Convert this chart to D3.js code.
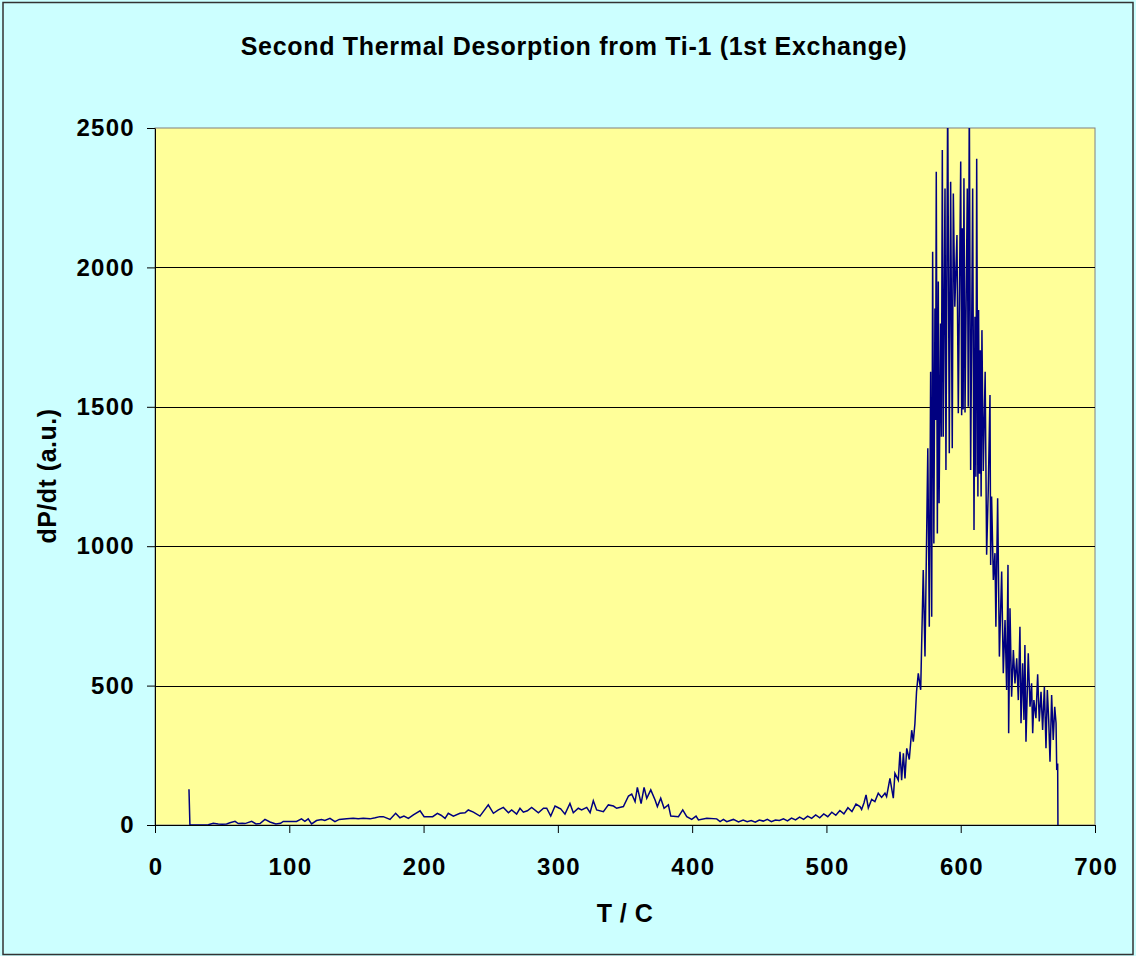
<!DOCTYPE html>
<html><head><meta charset="utf-8">
<script src="https://cdn.jsdelivr.net/npm/d3@7"></script>
<style>body{margin:0;background:#CCFFFF}</style>
</head><body><svg id="c" width="1136" height="956"></svg>
<script>
const chartTitle = "Second Thermal Desorption from Ti-1 (1st Exchange)";
const xTitle = "T / C";
const yTitle = "dP/dt (a.u.)";
const xTicks = [0, 100, 200, 300, 400, 500, 600, 700];
const yTicks = [0, 500, 1000, 1500, 2000, 2500];

// [T (C), dP/dt (a.u.)]
const lowRegion = [[25.3,128],[26,0],[28,-2],[30,0],[32,-3],[34,-1],[36,-3],[38,0],[39.7,1],[43.4,6],[47.1,4],[50,3],[53.3,4],[55.8,8],[59.6,13],[62,5],[65,6],[67,5],[72,13],[75.2,4],[78.2,5],[81.9,20],[85.6,11],[90,4],[93.5,6],[95.5,13],[100,13],[105.4,13],[109.1,22],[111.6,13],[114.1,22],[116.6,4],[120.3,16],[124,20],[126.5,16],[130.3,24],[134,12],[137.2,20],[142.7,22],[147.6,24],[151.4,22],[155.1,24],[160.1,22],[164,26],[167.5,30],[170,30],[175,20],[179.2,42],[182.4,26],[185.4,32],[188.7,24],[192.4,36],[197.4,51],[200.4,30],[206.8,30],[210.3,42]];
const midRegion = [[213,35],[216,24],[218.4,42],[222.2,32],[227.1,42],[230.9,44],[233.3,54],[237.1,46],[242,32],[248.2,72],[252,42],[255.7,54],[259.4,63],[263.2,44],[265.6,54],[269.3,39],[271.8,60],[274.3,46],[277.3,51],[280.5,63],[285.5,44],[289.3,60],[291.7,60],[294.7,32],[297.9,68],[301.1,60],[302.1,58],[305.3,39],[309,77],[311.5,44],[315.2,60],[317.7,54],[321.5,63],[324,44],[326.4,87],[328.9,54],[333.9,48],[337.6,72],[341.4,68],[343.8,60],[348.8,66],[352.6,104],[355,111],[357.5,84],[359.2,135],[362,77],[364.2,135],[366.2,96],[369.2,126],[372.4,90],[374.1,66],[376.6,96],[379.1,60],[382.3,72],[384.1,32],[389.8,30],[393,54],[396,30],[399.7,20],[402.9,32],[404.7,18],[410.9,24],[418.3,22],[420.8,12],[423.3,20],[425.8,12],[430.7,20],[434.5,11]];
const riseRegion = [[438,18],[441,12],[444,16],[447,10],[450,18],[453,14],[456,20],[459,12],[462,18],[465,16],[468,22],[471,15],[474,25],[477,18],[480,28],[483,20],[486,32],[489,24],[492,36],[495,26],[498,40],[501,30],[504,46],[507,35],[510,52],[513,40],[516,62],[519,48],[522,75],[525,66],[526.2,56],[528,80],[529.5,108],[531.2,61],[533.7,92],[536.1,84],[538.6,114],[541.1,99],[543.6,114],[544.8,102],[547.3,167],[549.8,96],[551,185],[553.5,161],[554.8,263],[556,161],[557.3,257],[558.5,167],[559.8,275],[561.7,235],[563.5,340],[564.7,299],[565.9,364]];
const peakRegion = [[567.1,478],[568.4,544],[570.2,485],[572.1,915],[573.4,604],[575.5,1351],[576.6,711],[577.6,1626],[578.4,747],[579.1,2056],[580.0,1010],[580.8,1853],[581.3,1453],[581.8,2343],[582.6,1046],[583.3,1949],[583.9,1154],[585.0,1799],[585.6,1393],[586.3,2421],[587.0,1393],[588.3,2283],[589.0,1273],[590.3,2620],[591.5,1333],[592.5,2307],[593.7,1351],[594.5,2265],[595.6,1859],[597.2,2116],[598.2,1477],[600.0,2380],[600.7,1470],[601.2,2140],[601.8,1490],[602.4,2320],[603.2,1480],[604.9,2283],[605.6,1500],[606.4,2620],[607.4,1273],[608.9,2283],[609.9,1058],[610.6,1823],[611.3,1249],[611.9,2390],[612.8,1178],[613.3,1847],[614.0,1260],[614.6,1703],[615.2,1178],[615.8,1775],[616.8,1270],[618.2,1626],[619.3,969],[620.5,1200],[621.8,1542],[622.3,933],[623.0,1178],[624.3,879],[625.5,975]];
const tailRegion = [[626.2,711],[627.5,1172],[628.8,604],[630.5,909],[631.7,544],[633.0,735],[634.2,484],[635.2,933],[635.7,329],[636.7,777],[637.9,460],[639.2,628],[640.4,508],[641.7,598],[642.9,448],[644.1,711],[644.9,365],[646.1,580],[647.1,377],[647.8,646],[648.6,299],[650.3,616],[651.6,424],[652.8,508],[653.6,329],[654.5,448],[656.0,383],[657.3,541],[658.5,371],[659.8,478],[661.0,341],[662.3,496],[663.5,275],[664.5,484],[665.5,380],[666.5,227],[667.7,466],[668.9,305],[670.0,424],[671.0,365],[671.5,197],[672.2,221],[672.4,0]];

const series = [].concat(lowRegion, midRegion, riseRegion, peakRegion, tailRegion);

const FONT = "'Liberation Sans', Arial, sans-serif";
const svg = d3.select("#c");
const x = d3.scaleLinear().domain([0, 700]).range([155, 1095]);
const y = d3.scaleLinear().domain([0, 2500]).range([825, 128]);

svg.append("rect").attr("x", 0).attr("y", 0).attr("width", 1136).attr("height", 956).attr("fill", "#CCFFFF");
svg.append("rect").attr("x", 3).attr("y", 2.5).attr("width", 1130).attr("height", 952)
  .attr("fill", "none").attr("stroke", "#333").attr("stroke-width", 1.5);

svg.append("rect").attr("x", x(0)).attr("y", y(2500)).attr("width", x(700) - x(0)).attr("height", y(0) - y(2500))
  .attr("fill", "#FFFF99").attr("stroke", "#808080").attr("stroke-width", 1);

svg.append("g").selectAll("line").data(yTicks.filter(d => d > 0 && d < 2500)).join("line")
  .attr("x1", x(0)).attr("x2", x(700)).attr("y1", d => Math.round(y(d)) + 0.5).attr("y2", d => Math.round(y(d)) + 0.5)
  .attr("stroke", "#000").attr("stroke-width", 1);

svg.append("defs").append("clipPath").attr("id", "clip").append("rect")
  .attr("x", x(0)).attr("y", y(2500)).attr("width", x(700) - x(0)).attr("height", y(0) - y(2500));

const line = d3.line().x(d => x(d[0])).y(d => y(Math.max(d[1], 0)));
svg.append("path").datum(series).attr("clip-path", "url(#clip)")
  .attr("d", line).attr("fill", "none").attr("stroke", "#000080").attr("stroke-width", 1.5).attr("stroke-linejoin", "miter");

const xAxis = svg.append("g").attr("transform", `translate(0,${y(0)})`)
  .call(d3.axisBottom(x).tickValues(xTicks).tickSize(8).tickSizeOuter(0).tickPadding(25).tickFormat(d3.format("d")));
const yAxis = svg.append("g").attr("transform", `translate(${x(0)},0)`)
  .call(d3.axisLeft(y).tickValues(yTicks).tickSize(8).tickSizeOuter(0).tickPadding(12).tickFormat(d3.format("d")));
[xAxis, yAxis].forEach(g => {
  g.selectAll("text").attr("font-family", FONT).attr("font-size", 24).attr("font-weight", "bold")
    .attr("letter-spacing", 1.3).attr("fill", "#000");
  g.selectAll("line").attr("stroke", "#000");
  g.select(".domain").attr("stroke", "#000");
});
xAxis.selectAll("text").attr("dx", 0.65);

svg.append("text").attr("x", 574).attr("y", 55).attr("text-anchor", "middle")
  .attr("font-family", FONT).attr("font-size", 25).attr("letter-spacing", 0.7).attr("font-weight", "bold").text(chartTitle);
svg.append("text").attr("x", 625).attr("y", 922).attr("text-anchor", "middle")
  .attr("font-family", FONT).attr("font-size", 25).attr("letter-spacing", 0.5).attr("font-weight", "bold").text(xTitle);
svg.append("text").attr("transform", "translate(56,476) rotate(-90)").attr("text-anchor", "middle")
  .attr("font-family", FONT).attr("font-size", 25).attr("letter-spacing", 0.5).attr("font-weight", "bold").text(yTitle);
</script></body></html>
